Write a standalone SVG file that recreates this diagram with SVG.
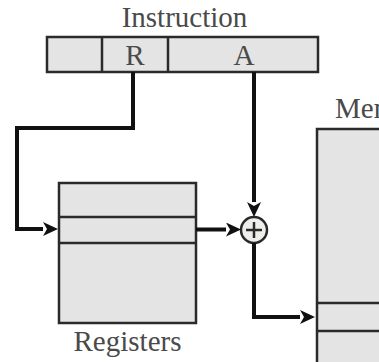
<svg xmlns="http://www.w3.org/2000/svg" width="379" height="362" viewBox="0 0 379 362">
<style>
.box{fill:#e4e4e4;stroke:#2a2a2a;stroke-width:2.5}
.div{stroke:#2a2a2a;stroke-width:2.5}
.conn{fill:none;stroke:#111;stroke-width:4}
.lbl{font-family:"Liberation Serif","Times New Roman",serif;font-size:29px;fill:#4a4a4a}
</style>
<defs>
<marker id="arr" markerUnits="userSpaceOnUse" markerWidth="15" markerHeight="14" refX="0" refY="7" orient="auto">
<path d="M0,0 L15,7 L0,14 L4,7 z" fill="#111"/>
</marker>
</defs>
<rect width="379" height="362" fill="#fff"/>
<g id="instruction">
<rect class="box" x="47" y="37" width="271" height="35"/>
<line class="div" x1="102" y1="37" x2="102" y2="72"/>
<line class="div" x1="168" y1="37" x2="168" y2="72"/>
<text class="lbl" x="184.5" y="27" text-anchor="middle">Instruction</text>
<text class="lbl" x="135" y="65" text-anchor="middle">R</text>
<text class="lbl" x="244" y="65" text-anchor="middle">A</text>
</g>
<g id="registers">
<rect class="box" x="59" y="183" width="137" height="140"/>
<line class="div" x1="59" y1="217" x2="196" y2="217"/>
<line class="div" x1="59" y1="243" x2="196" y2="243"/>
<text class="lbl" x="127.5" y="351" text-anchor="middle" fill="#5a5a5a">Registers</text>
</g>
<g id="adder">
<circle cx="254" cy="230" r="13" fill="#eeeeea" stroke="#2a2a2a" stroke-width="2.5"/>
<line class="div" x1="246" y1="230" x2="262" y2="230" stroke-width="1.8"/>
<line class="div" x1="254" y1="222" x2="254" y2="238" stroke-width="1.8"/>
</g>
<g id="memory">
<rect class="box" x="317" y="129" width="80" height="250"/>
<line class="div" x1="317" y1="303" x2="379" y2="303"/>
<line class="div" x1="317" y1="331" x2="379" y2="331"/>
<text class="lbl" x="335" y="118" fill="#333">Memory</text>
</g>
<g id="connectors">
<path class="conn" d="M133,72 V128 H17 V229 H43" marker-end="url(#arr)"/>
<path class="conn" d="M254,72 V202" marker-end="url(#arr)"/>
<path class="conn" d="M196,229.5 H226" marker-end="url(#arr)"/>
<path class="conn" d="M254,243 V317 H300" marker-end="url(#arr)"/>
</g>
</svg>
